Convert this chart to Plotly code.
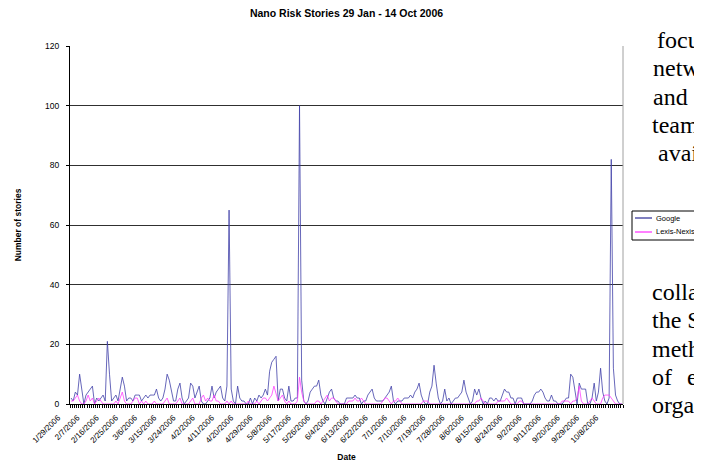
import pandas as pd
import plotly.graph_objects as go

# ---- data (daily counts, 29 Jan - 14 Oct 2006) ----
start_date = "2006-01-29"
google = [
    2, 1, 4, 3, 10, 5, 0, 3, 4, 5, 6, 0, 2, 1, 2, 3, 1, 21, 10, 1,
    2, 3, 1, 5, 9, 6, 1, 2, 2, 1, 3, 3, 3, 1, 2, 3, 2, 3, 3, 3,
    5, 2, 1, 2, 5, 10, 8, 4, 1, 1, 5, 7, 2, 0, 1, 2, 7, 6, 2, 4,
    6, 1, 0, 0, 1, 2, 6, 2, 4, 5, 6, 2, 1, 6, 65, 5, 1, 0, 6, 2,
    1, 1, 0, 0, 2, 0, 2, 1, 3, 2, 3, 5, 3, 11, 14, 15, 16, 1, 5, 5,
    2, 1, 6, 1, 1, 2, 2, 100, 8, 1, 0, 1, 4, 5, 6, 6, 8, 3, 1, 0,
    2, 4, 5, 2, 1, 1, 0, 0, 0, 2, 2, 2, 2, 3, 2, 2, 0, 1, 1, 3,
    4, 5, 2, 1, 1, 1, 1, 2, 3, 4, 6, 1, 0, 1, 1, 1, 2, 2, 2, 3,
    2, 4, 5, 7, 3, 1, 0, 0, 4, 6, 13, 7, 2, 0, 1, 5, 1, 2, 0, 1,
    2, 2, 3, 4, 8, 4, 2, 0, 1, 5, 3, 5, 2, 0, 1, 0, 2, 2, 1, 2,
    1, 1, 3, 5, 4, 4, 2, 2, 0, 2, 2, 2, 0, 0, 0, 0, 1, 3, 4, 4,
    5, 4, 2, 1, 1, 3, 1, 1, 0, 0, 0, 1, 2, 2, 10, 9, 4, 0, 7, 5,
    5, 5, 0, 0, 2, 7, 1, 4, 12, 4, 1, 0, 2, 82, 12, 3, 1, 0, 0,
]
lexis_nexis = [
    1, 1, 2, 3, 1, 0, 0, 1, 3, 1, 2, 0, 1, 2, 1, 0, 0, 0, 0, 0,
    0, 1, 0, 2, 4, 1, 0, 0, 0, 1, 2, 2, 0, 1, 0, 1, 0, 0, 0, 1,
    0, 0, 0, 0, 1, 2, 0, 0, 0, 0, 1, 2, 0, 0, 0, 0, 1, 2, 0, 0,
    0, 2, 3, 1, 2, 1, 1, 3, 1, 1, 0, 0, 0, 1, 0, 1, 0, 0, 0, 0,
    0, 0, 0, 1, 0, 0, 0, 1, 0, 1, 2, 2, 1, 2, 3, 6, 3, 1, 2, 3,
    1, 0, 1, 0, 0, 0, 1, 9, 4, 1, 0, 0, 0, 0, 0, 1, 1, 0, 1, 2,
    3, 1, 2, 2, 1, 0, 0, 0, 0, 0, 1, 1, 1, 2, 1, 1, 2, 1, 0, 0,
    0, 0, 0, 0, 0, 0, 1, 2, 2, 1, 0, 1, 1, 2, 1, 0, 0, 0, 0, 0,
    0, 0, 0, 0, 0, 1, 1, 1, 0, 0, 0, 0, 0, 0, 0, 0, 0, 0, 0, 0,
    0, 0, 0, 0, 0, 0, 0, 0, 0, 0, 1, 1, 2, 1, 0, 0, 0, 0, 0, 0,
    1, 1, 1, 1, 2, 1, 0, 0, 0, 0, 1, 1, 0, 0, 0, 0, 0, 0, 0, 0,
    0, 0, 0, 0, 0, 0, 0, 0, 0, 0, 1, 1, 1, 1, 0, 1, 1, 2, 6, 1,
    0, 0, 0, 1, 2, 1, 0, 0, 0, 2, 3, 3, 3, 2, 1, 0, 0, 0, 0,
]
tick_labels = [
    "1/29/2006", "2/7/2006", "2/16/2006", "2/25/2006", "3/6/2006", "3/15/2006",
    "3/24/2006", "4/2/2006", "4/11/2006", "4/20/2006", "4/29/2006", "5/8/2006",
    "5/17/2006", "5/26/2006", "6/4/2006", "6/13/2006", "6/22/2006", "7/1/2006",
    "7/10/2006", "7/19/2006", "7/28/2006", "8/6/2006", "8/15/2006", "8/24/2006",
    "9/2/2006", "9/11/2006", "9/20/2006", "9/29/2006", "10/8/2006",
]
y_ticks = [0, 20, 40, 60, 80, 100, 120]
series_names = ["Google", "Lexis-Nexis"]
series_colors = ["#4040a8", "#ff40ff"]
side_text_top = ["focu", "netw", "and", "team", "avai"]
side_text_bottom = ["colla", "the S", "meth", "of", "orga"]

dates = pd.date_range(start_date, periods=len(google), freq="D")
tick_dates = pd.to_datetime(tick_labels, format="%m/%d/%Y")

FONT = "Liberation Sans, Arial, sans-serif"
SERIF = "Liberation Serif, Times New Roman, serif"

fig = go.Figure()
for name, vals, col in zip(series_names, [google, lexis_nexis], series_colors):
    fig.add_trace(go.Scatter(x=dates, y=vals, mode="lines", name=name,
                             showlegend=False, line=dict(color=col, width=0.8)))

# page body has an 8px default margin; figure sized so it fits the 702x463 window
OFF = 8
W, H = 702 - OFF, 463 - OFF
PL, PR, PT, PB = 70, 623, 46, 404          # plot area in window pixels
L, R, T, B = PL - OFF, 702 - PR, PT - OFF, 463 - PB

def px_x(p):
    return (p - PL) / (PR - PL)

def px_y(p):
    return (PB - p) / (PB - PT)

# legend box (drawn as a key next to the plot)
LG_L, LG_R, LG_T, LG_B = 632, 702, 211, 240
shapes = [
    dict(type="line", xref="paper", yref="paper", x0=1, x1=1, y0=0, y1=1,
         line=dict(color="#a0a0a0", width=1)),
    dict(type="rect", xref="paper", yref="paper",
         x0=px_x(LG_L), x1=px_x(LG_R + 2), y0=px_y(LG_B), y1=px_y(LG_T),
         line=dict(color="black", width=1), fillcolor="white", layer="below"),
]
ann = []
for k, (name, col) in enumerate(zip(series_names, series_colors)):
    yy = 218 + 14 * k
    shapes.append(dict(type="line", xref="paper", yref="paper",
                       x0=px_x(635), x1=px_x(652), y0=px_y(yy), y1=px_y(yy),
                       line=dict(color="#000080" if k == 0 else "#ff00ff", width=1)))
    ann.append(dict(text=name, x=px_x(654), y=px_y(yy), xref="paper", yref="paper",
                    xanchor="left", yanchor="middle", showarrow=False,
                    font=dict(family=FONT, size=7.5)))

fig.update_layout(
    width=W, height=H,
    margin=dict(l=L, r=R, t=T, b=B, autoexpand=False),
    paper_bgcolor="white", plot_bgcolor="white",
    showlegend=False,
    font=dict(family=FONT, size=8, color="black"),
    title=dict(text="<b>Nano Risk Stories 29 Jan - 14 Oct 2006</b>",
               x=0.5, xref="paper", xanchor="center",
               y=1 - (13.5 - OFF) / H, yref="container", yanchor="middle",
               font=dict(size=10.5, family=FONT)),
    xaxis=dict(
        type="date",
        range=[dates[0] - pd.Timedelta(hours=12), dates[-1] + pd.Timedelta(hours=12)],
        tickmode="array", tickvals=tick_dates, ticktext=tick_labels,
        tickangle=-45, ticks="", tickfont=dict(size=8),
        ticklabelshift=-13, ticklabelstandoff=5,
        showgrid=False, zeroline=False,
        showline=True, linecolor="black", linewidth=1,
        minor=dict(ticks="outside", ticklen=3, tickcolor="black",
                   tick0=dates[0] - pd.Timedelta(hours=12),
                   dtick=86400000, showgrid=False),
        title=dict(text="<b>Date</b>", font=dict(size=8.5), standoff=10),
    ),
    yaxis=dict(
        range=[0, 120], tickmode="array", tickvals=y_ticks,
        ticks="outside", ticklen=3, tickcolor="black", tickfont=dict(size=8.5),
        ticklabelstandoff=5,
        showgrid=True, gridcolor="#303030", gridwidth=1.2,
        zeroline=False, showline=True, linecolor="black", linewidth=1,
        title=dict(text="<b>Number of stories</b>", font=dict(size=8.5), standoff=22),
    ),
    shapes=shapes,
)

top_y = [40, 68, 97, 125, 153]
top_x = [655, 651, 651, 650, 656]
for t, yy, xx in zip(side_text_top, top_y, top_x):
    ann.append(dict(text=t, x=px_x(xx), y=px_y(yy), xref="paper", yref="paper",
                    xanchor="left", yanchor="middle", showarrow=False,
                    font=dict(family=SERIF, size=24)))
bot_y = [292, 320, 349, 377, 405]
for t, yy in zip(side_text_bottom, bot_y):
    ann.append(dict(text=t, x=px_x(650), y=px_y(yy), xref="paper", yref="paper",
                    xanchor="left", yanchor="middle", showarrow=False,
                    font=dict(family=SERIF, size=24)))
ann.append(dict(text="e", x=px_x(685), y=px_y(377), xref="paper", yref="paper",
                xanchor="left", yanchor="middle", showarrow=False,
                font=dict(family=SERIF, size=24)))
fig.update_layout(annotations=ann)

fig.write_html("out.html")
